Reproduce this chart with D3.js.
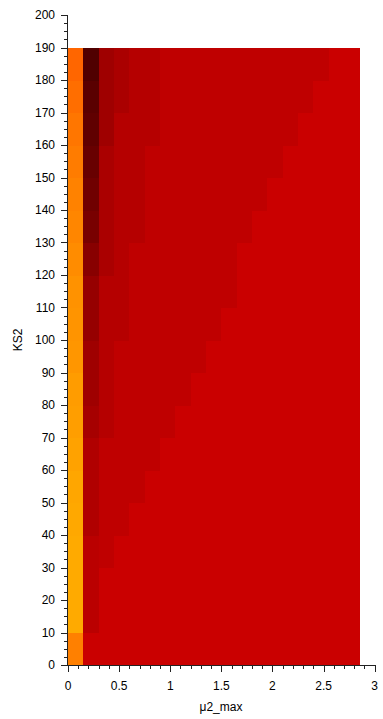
<!DOCTYPE html>
<html>
<head>
<meta charset="utf-8">
<script src="https://cdn.jsdelivr.net/npm/d3@7"></script>
<style>
  html, body { margin: 0; padding: 0; background: #ffffff; }
  svg { display: block; }
  text { font-family: "Liberation Sans", Arial, sans-serif; fill: #000; }
</style>
</head>
<body>
<svg id="chart" width="383" height="719"></svg>
<script>
// Cell edges (μ2_max columns, KS2 rows)
const mu2Edges = [0, 0.15, 0.3, 0.45, 0.6, 0.75, 0.9, 1.05, 1.2, 1.35, 1.5, 1.65, 1.8, 1.95, 2.1, 2.25, 2.4, 2.55, 2.7, 2.85];
const ks2Edges = [0, 10, 20, 30, 40, 50, 60, 70, 80, 90, 100, 110, 120, 130, 140, 150, 160, 170, 180, 190];

// Tick labels
const xTickValues = [0, 0.5, 1, 1.5, 2, 2.5, 3];
const xTickLabels = ["0", "0.5", "1", "1.5", "2", "2.5", "3"];
const yTickValues = [0, 10, 20, 30, 40, 50, 60, 70, 80, 90, 100, 110, 120, 130, 140, 150, 160, 170, 180, 190, 200];
const yTickLabels = ["0", "10", "20", "30", "40", "50", "60", "70", "80", "90", "100", "110", "120", "130", "140", "150", "160", "170", "180", "190", "200"];

// Cell values (index on a 64-level "hot" colormap), one array per KS2 row, bottom to top
const rowKS0   = [36.0, 19, 19, 19, 19, 19, 19, 19, 19, 19, 19, 19, 19, 19, 19, 19, 19, 19, 19];
const rowKS10  = [40.0, 17.5, 19, 19, 19, 19, 19, 19, 19, 19, 19, 19, 19, 19, 19, 19, 19, 19, 19];
const rowKS20  = [40.0, 17.5, 19, 19, 19, 19, 19, 19, 19, 19, 19, 19, 19, 19, 19, 19, 19, 19, 19];
const rowKS30  = [40.0, 17.5, 18, 19, 19, 19, 19, 19, 19, 19, 19, 19, 19, 19, 19, 19, 19, 19, 19];
const rowKS40  = [39.8, 16.6, 18, 18, 19, 19, 19, 19, 19, 19, 19, 19, 19, 19, 19, 19, 19, 19, 19];
const rowKS50  = [39.6, 16.6, 18, 18, 18, 19, 19, 19, 19, 19, 19, 19, 19, 19, 19, 19, 19, 19, 19];
const rowKS60  = [39.2, 16.6, 18, 18, 18, 18, 19, 19, 19, 19, 19, 19, 19, 19, 19, 19, 19, 19, 19];
const rowKS70  = [38.9, 15.6, 17, 18, 18, 18, 18, 19, 19, 19, 19, 19, 19, 19, 19, 19, 19, 19, 19];
const rowKS80  = [38.7, 15.0, 17, 18, 18, 18, 18, 18, 19, 19, 19, 19, 19, 19, 19, 19, 19, 19, 19];
const rowKS90  = [38.1, 15.0, 17, 18, 18, 18, 18, 18, 18, 19, 19, 19, 19, 19, 19, 19, 19, 19, 19];
const rowKS100 = [37.9, 14.1, 17, 17, 18, 18, 18, 18, 18, 18, 19, 19, 19, 19, 19, 19, 19, 19, 19];
const rowKS110 = [37.7, 14.1, 17, 17, 18, 18, 18, 18, 18, 18, 18, 19, 19, 19, 19, 19, 19, 19, 19];
const rowKS120 = [37.2, 12.8, 16, 17, 18, 18, 18, 18, 18, 18, 18, 19, 19, 19, 19, 19, 19, 19, 19];
const rowKS130 = [36.6, 11.3, 16, 17, 17, 18, 18, 18, 18, 18, 18, 18, 19, 19, 19, 19, 19, 19, 19];
const rowKS140 = [36.2, 10.5, 16, 17, 17, 18, 18, 18, 18, 18, 18, 18, 18, 19, 19, 19, 19, 19, 19];
const rowKS150 = [35.7,  9.8, 16, 17, 17, 18, 18, 18, 18, 18, 18, 18, 18, 18, 19, 19, 19, 19, 19];
const rowKS160 = [35.1,  9.0, 15, 17, 17, 17, 18, 18, 18, 18, 18, 18, 18, 18, 18, 19, 19, 19, 19];
const rowKS170 = [34.4,  8.5, 15, 16, 17, 17, 18, 18, 18, 18, 18, 18, 18, 18, 18, 18, 19, 19, 19];
const rowKS180 = [33.6,  7.5, 15, 16, 17, 17, 18, 18, 18, 18, 18, 18, 18, 18, 18, 18, 18, 19, 19];

const rows = [rowKS0, rowKS10, rowKS20, rowKS30, rowKS40, rowKS50, rowKS60, rowKS70, rowKS80, rowKS90,
              rowKS100, rowKS110, rowKS120, rowKS130, rowKS140, rowKS150, rowKS160, rowKS170, rowKS180];

const svg = d3.select("#chart");

const x = d3.scaleLinear().domain([0, 3]).range([68, 374.7]);
const y = d3.scaleLinear().domain([0, 200]).range([665, 15]);

// Hot colormap (64 levels: black -> red -> yellow -> white)
const color = d3.scaleLinear()
  .domain([0, 24, 48, 64])
  .range(["#000000", "#ff0000", "#ffff00", "#ffffff"])
  .interpolate(d3.interpolateRgb)
  .clamp(true);

const cells = [];
rows.forEach((row, r) => {
  row.forEach((v, c) => {
    cells.push({ x0: mu2Edges[c], x1: mu2Edges[c + 1], y0: ks2Edges[r], y1: (r + 1 < ks2Edges.length ? ks2Edges[r + 1] : ks2Edges[r] + 10), v });
  });
});

svg.append("g")
  .attr("shape-rendering", "crispEdges")
  .selectAll("rect")
  .data(cells)
  .join("rect")
  .attr("x", d => x(d.x0))
  .attr("y", d => y(d.y1))
  .attr("width", d => x(d.x1) - x(d.x0) + 0.5)
  .attr("height", d => y(d.y0) - y(d.y1) + 0.5)
  .attr("fill", d => color(d.v));

// Axes
const axisColor = "#222";
const gx = svg.append("g").attr("shape-rendering", "crispEdges");
gx.append("line").attr("x1", x(0)).attr("x2", x(3)).attr("y1", y(0) + 0.5).attr("y2", y(0) + 0.5).attr("stroke", axisColor);
const xMinor = d3.range(0, 31).map(i => i / 10);
gx.selectAll("line.minor").data(xMinor).join("line").attr("class", "minor")
  .attr("x1", d => Math.round(x(d)) + 0.5).attr("x2", d => Math.round(x(d)) + 0.5)
  .attr("y1", y(0)).attr("y2", d => y(0) + (Math.abs(d * 2 - Math.round(d * 2)) < 1e-6 ? 7 : 4))
  .attr("stroke", axisColor);
gx.selectAll("text").data(xTickValues).join("text")
  .attr("x", d => x(d)).attr("y", 689.5)
  .attr("text-anchor", "middle").attr("font-size", 12)
  .text((d, i) => xTickLabels[i]);

const gy = svg.append("g").attr("shape-rendering", "crispEdges");
gy.append("line").attr("x1", x(0) - 0.5).attr("x2", x(0) - 0.5).attr("y1", y(0)).attr("y2", y(200)).attr("stroke", axisColor);
const yMinor = d3.range(0, 81).map(i => i * 2.5);
gy.selectAll("line.minor").data(yMinor).join("line").attr("class", "minor")
  .attr("x1", x(0)).attr("x2", d => x(0) - (d % 10 === 0 ? 7 : 4))
  .attr("y1", d => Math.round(y(d)) + 0.5).attr("y2", d => Math.round(y(d)) + 0.5)
  .attr("stroke", axisColor);
gy.selectAll("text").data(yTickValues).join("text")
  .attr("x", 55).attr("y", d => y(d) + 4)
  .attr("text-anchor", "end").attr("font-size", 12)
  .text((d, i) => yTickLabels[i]);

// Axis titles
svg.append("text").attr("x", 221).attr("y", 711).attr("text-anchor", "middle").attr("font-size", 12).text("μ2_max");
svg.append("text").attr("transform", "translate(22,340) rotate(-90)").attr("text-anchor", "middle").attr("font-size", 12).text("KS2");
</script>
</body>
</html>
